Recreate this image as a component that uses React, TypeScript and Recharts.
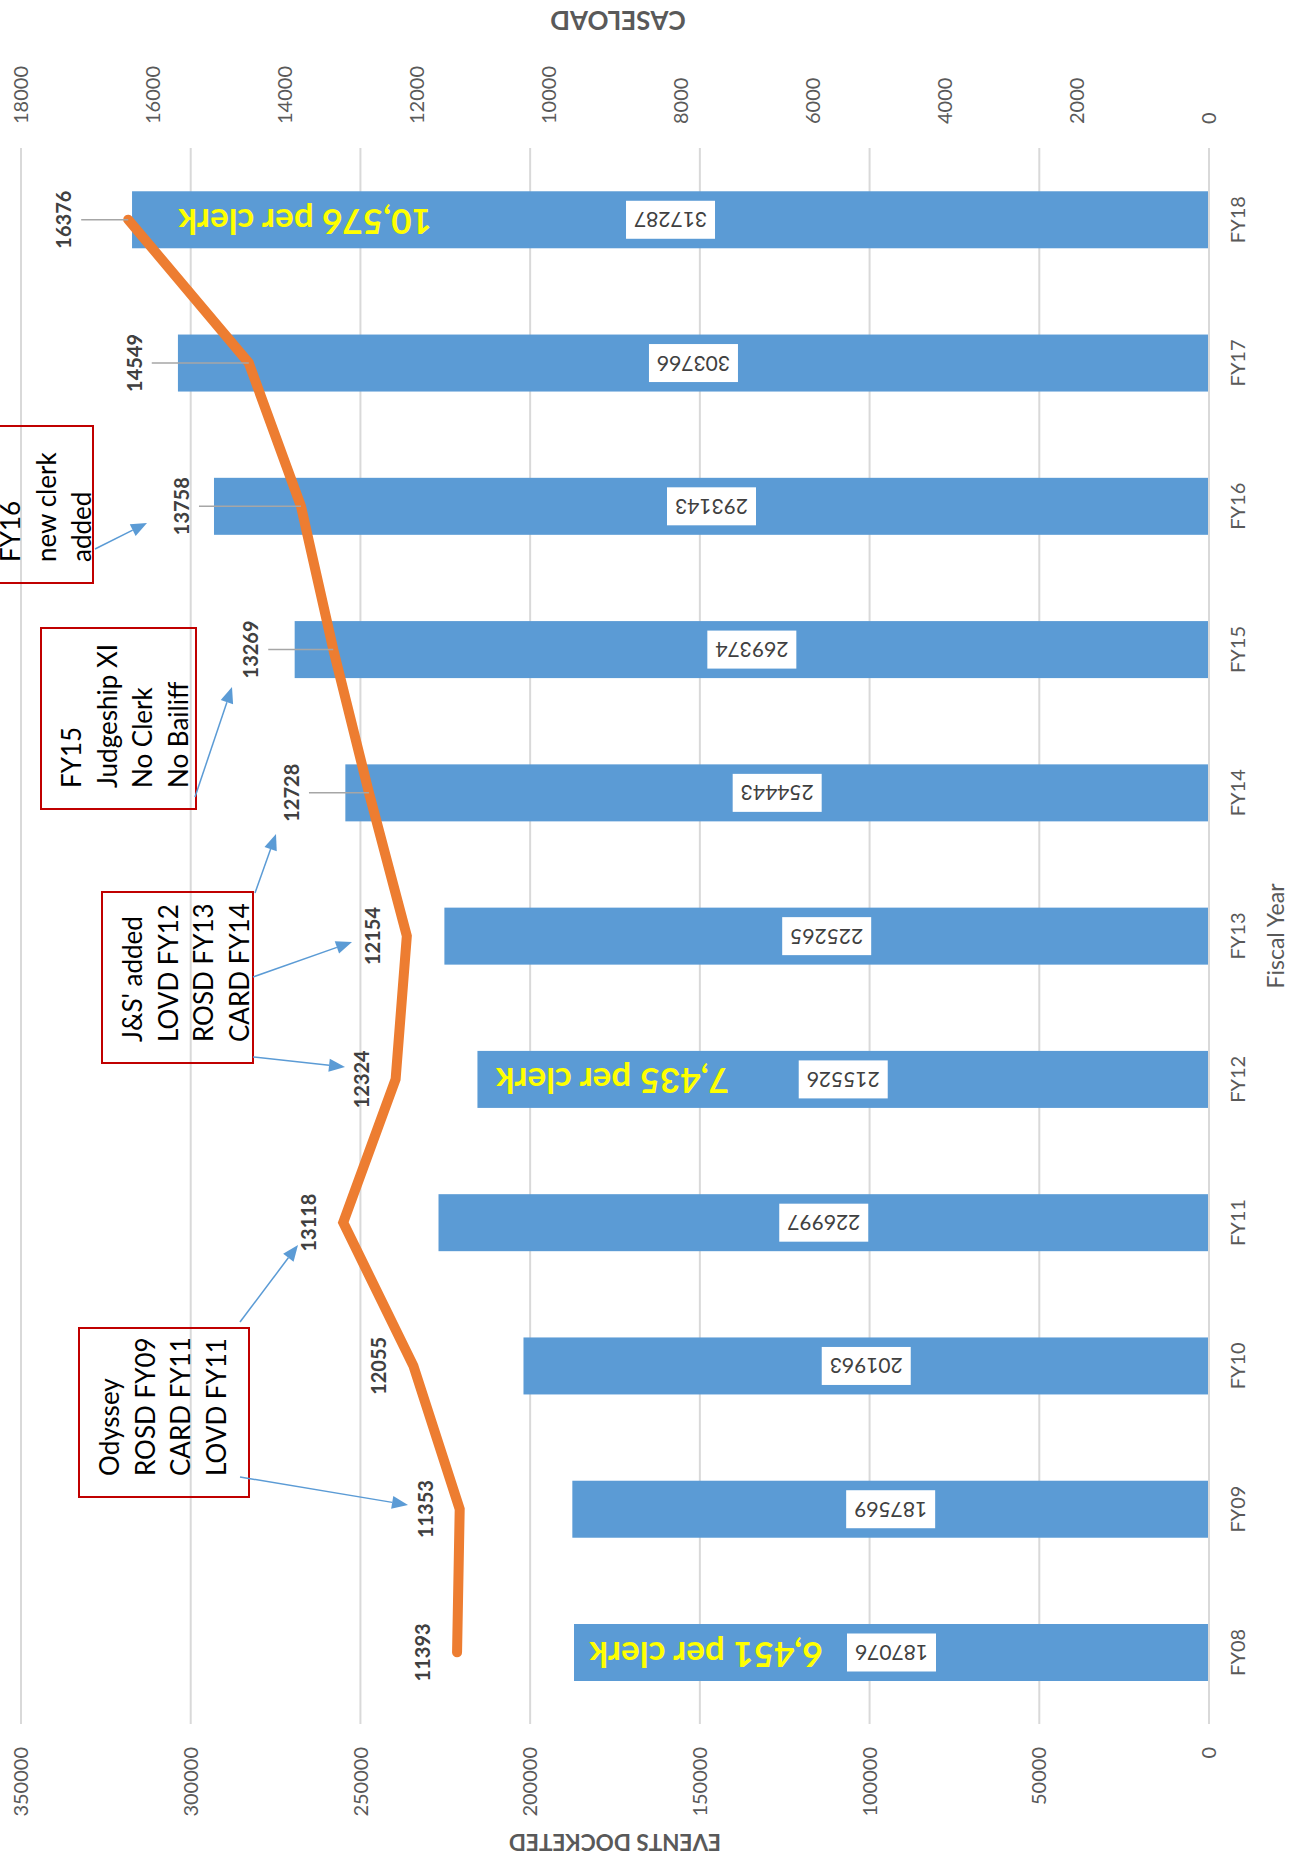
import React from 'react';
import { ComposedChart, Bar, Line, XAxis, YAxis, CartesianGrid } from 'recharts';

// ---------- data ----------
const fiscalYears = ['FY08', 'FY09', 'FY10', 'FY11', 'FY12', 'FY13', 'FY14', 'FY15', 'FY16', 'FY17', 'FY18'];
const eventsDocketed = [187076, 187569, 201963, 226997, 215526, 225265, 254443, 269374, 293143, 303766, 317287];
const caseload = [11393, 11353, 12055, 13118, 12324, 12154, 12728, 13269, 13758, 14549, 16376];
const eventsTicks = [0, 50000, 100000, 150000, 200000, 250000, 300000, 350000];
const caseloadTicks = [0, 2000, 4000, 6000, 8000, 10000, 12000, 14000, 16000, 18000];
const clerkNotes = ['6,451 per clerk', '', '', '', '7,435 per clerk', '', '', '', '', '', '10,576 per clerk'];

const annotationTexts = [
  ['Odyssey', 'ROSD FY09', 'CARD FY11', 'LOVD FY11'],
  ["J&S' added", 'LOVD FY12', 'ROSD FY13', 'CARD FY14'],
  ['FY15', 'Judgeship XI', 'No Clerk', 'No Bailiff'],
  ['FY16', 'new clerk', 'added'],
];

// ---------- layout / style (not data) ----------
const W = 1860; // chart drawn in its natural orientation, then turned a quarter turn
const H = 1303;
const FONT = 'Lato, "DejaVu Sans", sans-serif';
const BAR_COLOR = '#5B9BD5';
const LINE_COLOR = '#ED7D31';
const AXIS_TEXT = '#595959';
const GRID = '#D9D9D9';

const noteOffset = [132, 0, 0, 0, 135, 0, 0, 0, 0, 0, 173];
const labelLift = [34, 34, 34, 34, 34, 34, 77, 82, 119, 114, 64];
const hasLeader = [false, false, false, false, false, false, true, true, true, true, true];

const annotationBoxes = [
  { x: 363, y: 79, w: 169, h: 170 },
  { x: 797, y: 102, w: 171, h: 151 },
  { x: 1051, y: 41, w: 181, h: 155 },
  { x: 1277, y: -20, w: 157, h: 113 },
];
const annotationArrows = [
  [[538, 240, 615, 298], [383, 240, 355, 408]],
  [[967, 255, 1026, 276], [883, 253, 918, 352], [803, 253, 793, 345]],
  [[1063, 195, 1173, 232]],
  [[1311, 95, 1337, 147]],
];

const data = fiscalYears.map((fy, i) => ({ fy, events: eventsDocketed[i], caseload: caseload[i] }));

const BarShape = (props: any) => {
  const { x, y, width, height, index } = props;
  const cx = x + width / 2;
  const cy = y + height / 2;
  const note = clerkNotes[index];
  const ny = y + noteOffset[index];
  return (
    <g>
      <rect x={x} y={y} width={width} height={height} fill={BAR_COLOR} />
      <rect x={cx - 19} y={cy - 44.5} width={38} height={89} fill="#FFFFFF" />
      <text
        x={cx}
        y={cy + 7.5}
        transform={`rotate(-90 ${cx} ${cy})`}
        textAnchor="middle"
        fontSize={21}
        fill="#404040"
        fontFamily={FONT}
      >
        {eventsDocketed[index]}
      </text>
      {note ? (
        <text
          x={cx}
          y={ny + 11}
          transform={`rotate(-90 ${cx} ${ny})`}
          textAnchor="middle"
          fontSize={35}
          fontWeight={700}
          fill="#FFFF00"
          fontFamily={FONT}
        >
          {note}
        </text>
      ) : null}
    </g>
  );
};

const LineDot = (props: any) => {
  const { cx, cy, index } = props;
  const ly = cy - labelLift[index];
  return (
    <g key={`dot-${index}`}>
      {hasLeader[index] ? (
        <line x1={cx} y1={ly + 17} x2={cx} y2={cy} stroke="#A6A6A6" strokeWidth={1.5} />
      ) : null}
      <text x={cx} y={ly + 7} textAnchor="middle" fontSize={20} fontWeight={700} fill="#404040" fontFamily={FONT}>
        {caseload[index]}
      </text>
    </g>
  );
};

const leftTitle = (p: any) => {
  const vb = p && p.viewBox ? p.viewBox : { x: 0, y: 21, width: 136, height: 1188 };
  const x = vb.x + 18;
  const y = vb.y + vb.height / 2;
  return (
    <text x={x} y={y + 8} transform={`rotate(-90 ${x} ${y})`} textAnchor="middle" fontSize={22.5} fontWeight={700} fill={AXIS_TEXT} fontFamily={FONT}>
      EVENTS DOCKETED
    </text>
  );
};

const rightTitle = (p: any) => {
  const vb = p && p.viewBox ? p.viewBox : { x: 1712, y: 21, width: 148, height: 1188 };
  const x = vb.x + 128;
  const y = vb.y + vb.height / 2 + 3;
  return (
    <text x={x} y={y + 9.4} transform={`rotate(-90 ${x} ${y})`} textAnchor="middle" fontSize={26} fontWeight={700} fill={AXIS_TEXT} fontFamily={FONT}>
      CASELOAD
    </text>
  );
};

const bottomTitle = (p: any) => {
  const vb = p && p.viewBox ? p.viewBox : { x: 136, y: 1209, width: 1576, height: 94 };
  const x = vb.x + vb.width / 2;
  const y = vb.y + 67;
  return (
    <text x={x} y={y + 8.3} textAnchor="middle" fontSize={23} fill={AXIS_TEXT} fontFamily={FONT}>
      Fiscal Year
    </text>
  );
};

const Arrow = ({ a }: { a: number[] }) => {
  const [x1, y1, x2, y2] = a;
  const dx = x2 - x1;
  const dy = y2 - y1;
  const len = Math.sqrt(dx * dx + dy * dy);
  const ux = dx / len;
  const uy = dy / len;
  const bx = x2 - ux * 16;
  const by = y2 - uy * 16;
  const pts = `${x2},${y2} ${bx - uy * 6.5},${by + ux * 6.5} ${bx + uy * 6.5},${by - ux * 6.5}`;
  return (
    <g>
      <line x1={x1} y1={y1} x2={bx} y2={by} stroke={BAR_COLOR} strokeWidth={1.5} />
      <polygon points={pts} fill={BAR_COLOR} />
    </g>
  );
};

export default function App() {
  return (
    <div style={{ position: 'absolute', left: 0, top: 0, width: 1303, height: 1860, overflow: 'hidden', background: '#FFFFFF' }}>
      <div
        style={{
          position: 'absolute',
          left: 0,
          top: 0,
          width: W,
          height: H,
          transformOrigin: '0 0',
          transform: `translateY(${W}px) rotate(-90deg)`,
        }}
      >
        <ComposedChart width={W} height={H} data={data} margin={{ top: 21, right: 0, bottom: 0, left: 0 }}>
          <CartesianGrid yAxisId="left" vertical={false} stroke={GRID} strokeWidth={2} />
          <XAxis
            dataKey="fy"
            height={94}
            interval={0}
            tickLine={false}
            tickSize={0}
            tickMargin={22}
            axisLine={{ stroke: GRID, strokeWidth: 2 }}
            tick={{ fontSize: 20, fill: AXIS_TEXT, fontFamily: FONT }}
            label={{ content: bottomTitle }}
          />
          <YAxis
            yAxisId="left"
            width={136}
            domain={[0, 350000]}
            ticks={eventsTicks}
            axisLine={false}
            tickLine={false}
            tickSize={0}
            tickMargin={23}
            tick={{ fontSize: 20, fill: AXIS_TEXT, fontFamily: FONT }}
            label={{ content: leftTitle }}
          />
          <YAxis
            yAxisId="right"
            orientation="right"
            width={148}
            domain={[0, 18000]}
            ticks={caseloadTicks}
            axisLine={false}
            tickLine={false}
            tickSize={0}
            tickMargin={24}
            tick={{ fontSize: 20, fill: AXIS_TEXT, fontFamily: FONT }}
            label={{ content: rightTitle }}
          />
          <Bar yAxisId="left" dataKey="events" barSize={57} fill={BAR_COLOR} shape={BarShape} isAnimationActive={false} />
          <Line
            yAxisId="right"
            dataKey="caseload"
            type="linear"
            stroke={LINE_COLOR}
            strokeWidth={10}
            strokeLinejoin="miter"
            strokeLinecap="round"
            dot={LineDot}
            activeDot={false}
            isAnimationActive={false}
          />
        </ComposedChart>
        <svg width={W} height={H} style={{ position: 'absolute', left: 0, top: 0, overflow: 'visible', pointerEvents: 'none' }}>
          {annotationBoxes.map((b, i) => (
            <g key={`ann-${i}`}>
              <rect x={b.x} y={b.y} width={b.w} height={b.h} fill="none" stroke="#C00000" strokeWidth={2} />
              {annotationTexts[i].map((t, j) => (
                <text key={j} x={b.x + 21} y={b.y + 40 + j * 35.6} fontSize={26} fill="#000000" fontFamily={FONT}>
                  {t}
                </text>
              ))}
              {annotationArrows[i].map((a, j) => (
                <Arrow key={`arr-${j}`} a={a} />
              ))}
            </g>
          ))}
        </svg>
      </div>
    </div>
  );
}
